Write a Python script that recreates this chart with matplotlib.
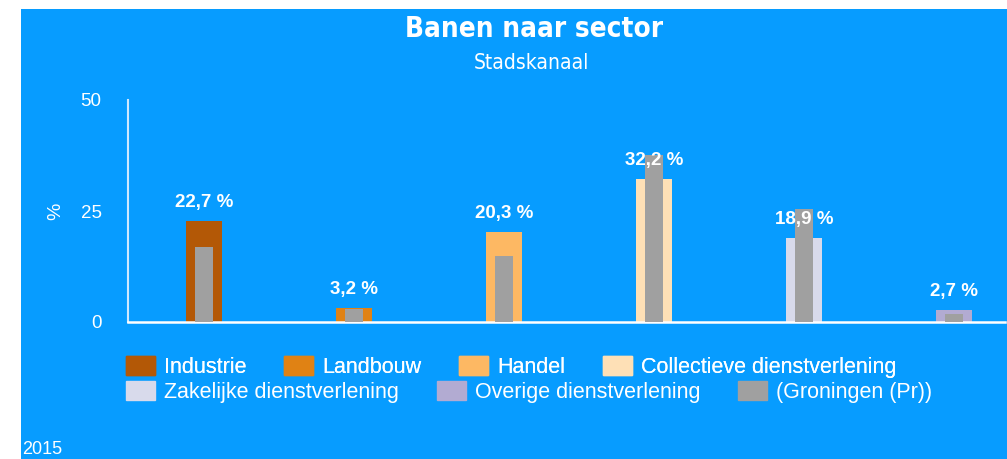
import matplotlib.pyplot as plt
from matplotlib.patches import Rectangle
import numpy as np

# data
sectors = ['Industrie', 'Landbouw', 'Handel', 'Collectieve dienstverlening',
           'Zakelijke dienstverlening', 'Overige dienstverlening']
stadskanaal = [22.7, 3.2, 20.3, 32.2, 18.9, 2.7]
groningen = [16.9, 3.0, 14.9, 37.6, 25.4, 1.8]
sector_colors = ['#b35806', '#e08214', '#fdb863', '#fee0b6', '#d8daeb', '#b2abd2']
ref_label = '(Groningen (Pr))'
ref_color = '#a0a0a0'
bg = '#079cff'

plt.rcParams['font.family'] = ['Liberation Sans', 'DejaVu Sans']

fig = plt.figure(figsize=(10.07, 4.59), dpi=100, facecolor='white')
fig.patches.append(Rectangle((21 / 1007, 0), 1 - 21 / 1007, 1 - 9 / 459,
                             transform=fig.transFigure, facecolor=bg,
                             edgecolor='none', zorder=-1))

ax = fig.add_axes([128 / 1007, 1 - 322 / 459, 877 / 1007, 222 / 459])
ax.set_facecolor('none')

x = np.arange(len(sectors))
ax.bar(x, stadskanaal, 0.24, color=sector_colors, zorder=2)
ax.bar(x, groningen, 0.12, color=ref_color, zorder=3)

for xi, v in zip(x, stadskanaal):
    ax.annotate(f'{v:.1f} %'.replace('.', ','), xy=(xi, v), xytext=(0, 7),
                textcoords='offset points', ha='center', va='bottom',
                color='white', fontsize=13.5, fontweight='bold', zorder=4)

ax.set_xlim(-0.507, 5.34)
ax.set_ylim(0, 50)
ax.set_yticks([0, 25, 50])
ax.set_xticks([])
ax.tick_params(axis='y', length=0, pad=19, colors='white', labelsize=13.5)
for s in ['top', 'right']:
    ax.spines[s].set_visible(False)
ax.spines['left'].set_color('#cfe8ff')
ax.spines['left'].set_linewidth(1.5)
ax.spines['bottom'].set_color('white')
ax.spines['bottom'].set_linewidth(1.8)
ax.set_ylabel('%', color='white', fontsize=14, labelpad=12)

fig.text(534 / 1007, 1 - 29 / 459, 'Banen naar sector', ha='center', va='center',
         color='white', fontsize=20, fontweight='bold',
         family='DejaVu Sans', fontstretch='condensed')
fig.text(531 / 1007, 1 - 63 / 459, 'Stadskanaal', ha='center', va='center',
         color='white', fontsize=15,
         family='DejaVu Sans', fontstretch='condensed')

handles = [Rectangle((0, 0), 1, 1, color=c) for c in sector_colors + [ref_color]]
labels = sectors + [ref_label]
leg_kw = dict(loc='center left', frameon=False, fontsize=15.5, labelcolor='white',
              handlelength=1.35, handleheight=1.0, handletextpad=0.42,
              columnspacing=1.75, borderaxespad=0, borderpad=0)
# legend laid out row by row like the original (4 + 3)
row1 = fig.legend(handles[:4], labels[:4], ncol=4,
                  bbox_to_anchor=(126 / 1007, 1 - 367 / 459), **leg_kw)
fig.legend(handles[4:], labels[4:], ncol=3,
           bbox_to_anchor=(126 / 1007, 1 - 392 / 459), **leg_kw)
fig.add_artist(row1)

fig.text(22 / 1007, 1 - 449 / 459, '2015', ha='left', va='center',
         color='white', fontsize=13)

plt.savefig('out.png', dpi=100, facecolor=fig.get_facecolor())
